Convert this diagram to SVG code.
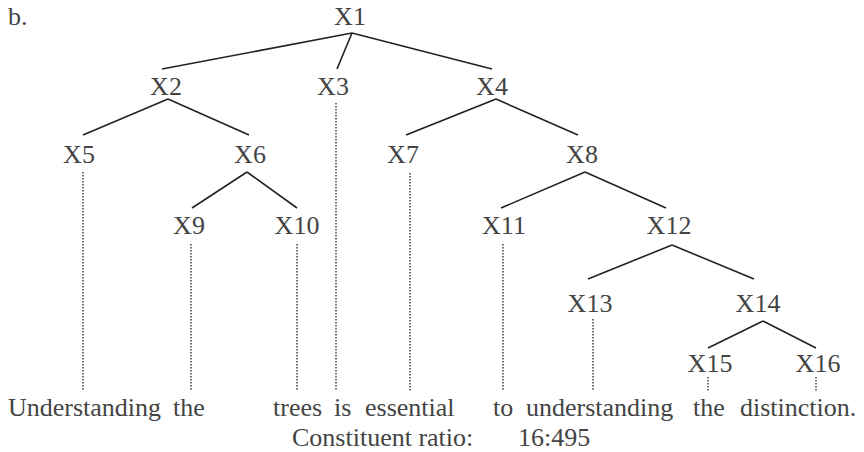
<svg xmlns="http://www.w3.org/2000/svg" width="864" height="452" viewBox="0 0 864 452" font-family="Liberation Serif">
<rect width="864" height="452" fill="#fff"/>
<text x="8" y="25" style="font-family:'Liberation Serif',serif;font-size:26px;fill:#444">b.</text>
<g id="connectors" fill="none">
  <g stroke="#222" stroke-width="1.6">
  <line x1="352" y1="33" x2="162" y2="69"/>
  <line x1="352" y1="33" x2="337" y2="69"/>
  <line x1="352" y1="33" x2="492" y2="69"/>
  <line x1="168" y1="99" x2="83" y2="135"/>
  <line x1="168" y1="99" x2="249" y2="135"/>
  <line x1="496" y1="99" x2="406" y2="135"/>
  <line x1="496" y1="99" x2="578" y2="135"/>
  <line x1="247" y1="172" x2="192" y2="208"/>
  <line x1="247" y1="172" x2="297" y2="208"/>
  <line x1="585" y1="172" x2="501" y2="208"/>
  <line x1="585" y1="172" x2="666" y2="208"/>
  <line x1="672" y1="245" x2="588" y2="279"/>
  <line x1="672" y1="245" x2="754" y2="279"/>
  <line x1="763" y1="321" x2="708" y2="348"/>
  <line x1="763" y1="321" x2="816" y2="348"/>
  </g>
  <g stroke="#333" stroke-width="1.4" stroke-dasharray="1.5 1.5">
  <line x1="336" y1="103" x2="336" y2="391"/>
  <line x1="83" y1="172" x2="83" y2="391"/>
  <line x1="410" y1="173" x2="410" y2="391"/>
  <line x1="191" y1="244" x2="191" y2="391"/>
  <line x1="297" y1="244" x2="297" y2="391"/>
  <line x1="503" y1="244" x2="503" y2="391"/>
  <line x1="593" y1="319" x2="593" y2="391"/>
  <line x1="708" y1="377" x2="708" y2="391"/>
  <line x1="816" y1="377" x2="816" y2="391"/>
  </g>
</g>
<g id="X1"><text x="350" y="25" text-anchor="middle" style="font-family:'Liberation Serif',serif;font-size:26px;fill:#444">X1</text></g>
<g id="X2"><text x="166" y="95" text-anchor="middle" style="font-family:'Liberation Serif',serif;font-size:26px;fill:#444">X2</text></g>
<g id="X3"><text x="333" y="95" text-anchor="middle" style="font-family:'Liberation Serif',serif;font-size:26px;fill:#444">X3</text></g>
<g id="X4"><text x="492" y="95" text-anchor="middle" style="font-family:'Liberation Serif',serif;font-size:26px;fill:#444">X4</text></g>
<g id="X5"><text x="79" y="163" text-anchor="middle" style="font-family:'Liberation Serif',serif;font-size:26px;fill:#444">X5</text></g>
<g id="X6"><text x="250" y="163" text-anchor="middle" style="font-family:'Liberation Serif',serif;font-size:26px;fill:#444">X6</text></g>
<g id="X7"><text x="403" y="163" text-anchor="middle" style="font-family:'Liberation Serif',serif;font-size:26px;fill:#444">X7</text></g>
<g id="X8"><text x="582" y="163" text-anchor="middle" style="font-family:'Liberation Serif',serif;font-size:26px;fill:#444">X8</text></g>
<g id="X9"><text x="189" y="234" text-anchor="middle" style="font-family:'Liberation Serif',serif;font-size:26px;fill:#444">X9</text></g>
<g id="X10"><text x="297" y="234" text-anchor="middle" style="font-family:'Liberation Serif',serif;font-size:26px;fill:#444">X10</text></g>
<g id="X11"><text x="504" y="234" text-anchor="middle" style="font-family:'Liberation Serif',serif;font-size:26px;fill:#444">X11</text></g>
<g id="X12"><text x="669" y="234" text-anchor="middle" style="font-family:'Liberation Serif',serif;font-size:26px;fill:#444">X12</text></g>
<g id="X13"><text x="590" y="312" text-anchor="middle" style="font-family:'Liberation Serif',serif;font-size:26px;fill:#444">X13</text></g>
<g id="X14"><text x="758" y="312" text-anchor="middle" style="font-family:'Liberation Serif',serif;font-size:26px;fill:#444">X14</text></g>
<g id="X15"><text x="710" y="372" text-anchor="middle" style="font-family:'Liberation Serif',serif;font-size:26px;fill:#444">X15</text></g>
<g id="X16"><text x="818" y="372" text-anchor="middle" style="font-family:'Liberation Serif',serif;font-size:26px;fill:#444">X16</text></g>
<g id="words">
  <text x="8" y="416" style="font-family:'Liberation Serif',serif;font-size:26px;fill:#444">Understanding</text>
  <text x="173" y="416" style="font-family:'Liberation Serif',serif;font-size:26px;fill:#444">the</text>
  <text x="273" y="416" style="font-family:'Liberation Serif',serif;font-size:26px;fill:#444">trees</text>
  <text x="334" y="416" style="font-family:'Liberation Serif',serif;font-size:26px;fill:#444">is</text>
  <text x="365" y="416" style="font-family:'Liberation Serif',serif;font-size:26px;fill:#444">essential</text>
  <text x="493" y="416" style="font-family:'Liberation Serif',serif;font-size:26px;fill:#444">to</text>
  <text x="526" y="416" style="font-family:'Liberation Serif',serif;font-size:26px;fill:#444">understanding</text>
  <text x="693" y="416" style="font-family:'Liberation Serif',serif;font-size:26px;fill:#444">the</text>
  <text x="740" y="416" style="font-family:'Liberation Serif',serif;font-size:26px;fill:#444">distinction.</text>
</g>
<g id="ratio">
  <text x="292" y="446" style="font-family:'Liberation Serif',serif;font-size:26px;fill:#444">Constituent ratio:<tspan x="518">16:495</tspan></text>
</g>
</svg>
